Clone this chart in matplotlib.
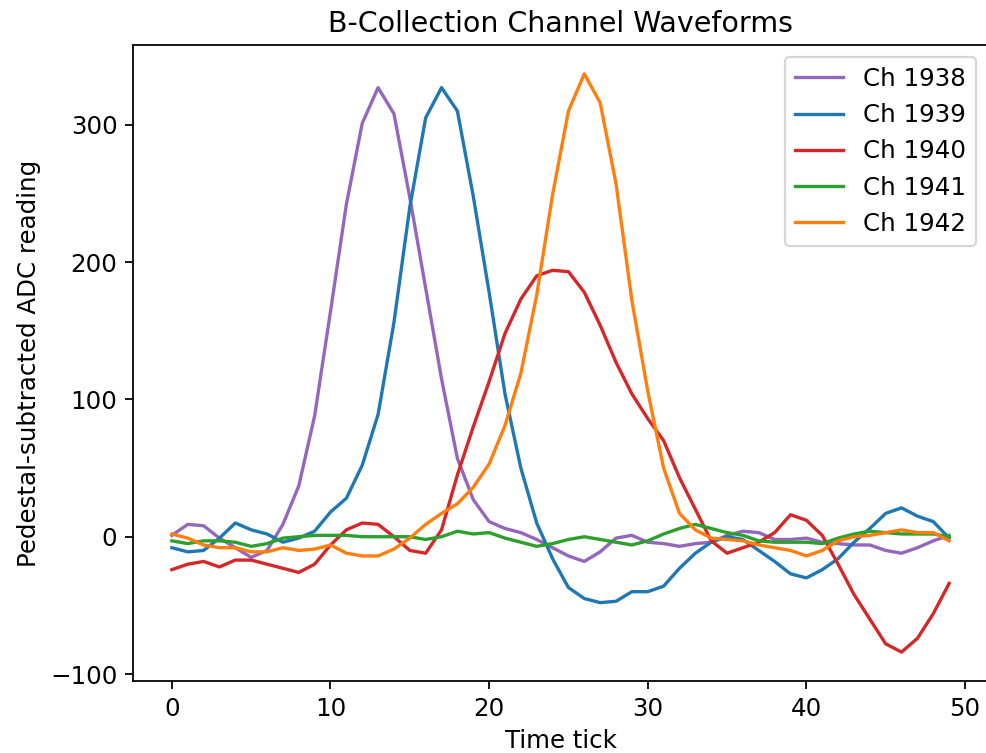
import matplotlib
matplotlib.use("Agg")
import matplotlib.pyplot as plt

ticks = list(range(50))

channels = ["Ch 1938", "Ch 1939", "Ch 1940", "Ch 1941", "Ch 1942"]
colors = ["tab:purple", "tab:blue", "tab:red", "tab:green", "tab:orange"]

ch1938 = [1, 9, 8, -1, -8, -15, -10, 9, 37, 88,
          164, 242, 301, 327, 308, 247, 181, 115, 57, 27,
          11, 6, 3, -2, -8, -14, -18, -11, -1, 1,
          -4, -5, -7, -5, -4, 1, 4, 3, -2, -2,
          -1, -4, -5, -6, -6, -10, -12, -8, -3, 1]
ch1939 = [-8, -11, -10, -1, 10, 5, 2, -4, -1, 4,
          18, 28, 52, 89, 156, 240, 305, 327, 310, 248,
          178, 104, 50, 10, -16, -37, -45, -48, -47, -40,
          -40, -36, -23, -12, -4, 0, -2, -10, -18, -27,
          -30, -24, -16, -4, 6, 17, 21, 15, 11, -1]
ch1940 = [-24, -20, -18, -22, -17, -17, -20, -23, -26, -20,
          -6, 5, 10, 9, 0, -10, -12, 5, 45, 80,
          113, 148, 173, 190, 194, 193, 178, 154, 127, 104,
          86, 70, 43, 20, -3, -12, -8, -4, 3, 16,
          12, 1, -20, -42, -60, -78, -84, -74, -56, -34]
ch1941 = [-3, -5, -3, -3, -4, -7, -5, -1, 0, 1,
          1, 1, 0, 0, 0, 0, -2, 0, 4, 2,
          3, -1, -4, -7, -5, -2, 0, -2, -4, -6,
          -3, 2, 6, 9, 6, 3, 1, -3, -4, -4,
          -4, -5, -1, 2, 4, 3, 2, 2, 2, 0]
ch1942 = [2, -1, -6, -8, -8, -11, -11, -8, -10, -9,
          -6, -12, -14, -14, -9, -1, 9, 17, 24, 36,
          53, 81, 119, 176, 249, 310, 337, 316, 257, 172,
          106, 50, 17, 5, -1, -2, -3, -6, -8, -10,
          -14, -10, -3, 0, 1, 3, 5, 3, 3, -3]

waveforms = [ch1938, ch1939, ch1940, ch1941, ch1942]

plt.rcParams["font.size"] = 11

fig = plt.figure(figsize=(986 / 160, 753 / 160), dpi=160)
# axes run up to the right edge of the canvas
ax = fig.add_axes([133 / 986, 1 - 681 / 753, 855 / 986, 636 / 753])

for name, wf, c in zip(channels, waveforms, colors):
    ax.plot(ticks, wf, color=c, label=name)

ax.spines["right"].set_visible(False)
ax.set_title("B-Collection Channel Waveforms", fontsize=12.8)
ax.set_xlabel("Time tick")
ax.set_ylabel("Pedestal-subtracted ADC reading")
ax.legend(loc="upper right", labelspacing=0.5)

fig.savefig("out.png", dpi=160)
